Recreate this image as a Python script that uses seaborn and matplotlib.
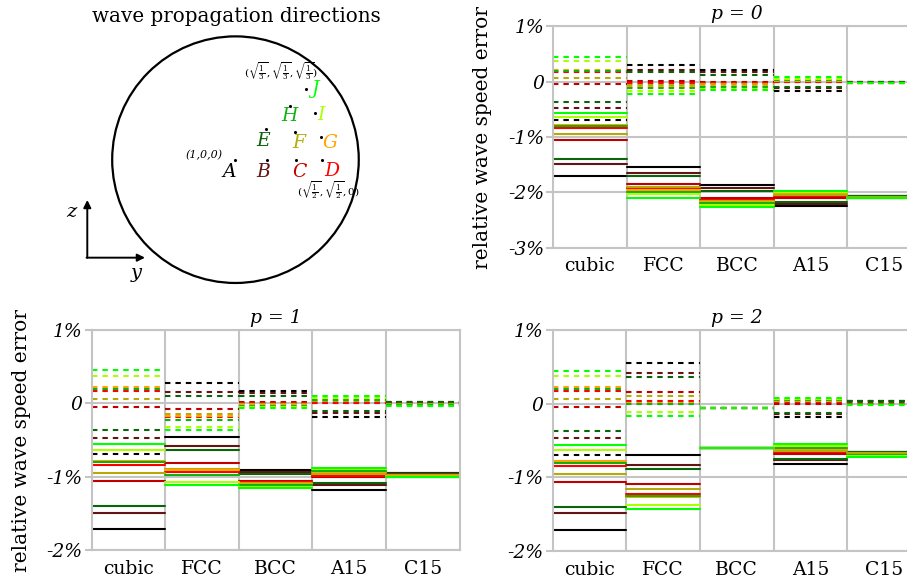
import numpy as np
import pandas as pd
import matplotlib
matplotlib.use("Agg")
import matplotlib.pyplot as plt
from matplotlib.patches import Circle
import seaborn as sns

# ---- data -------------------------------------------------------------
directions = ["A", "B", "C", "D", "E", "F", "G", "H", "I", "J"]
lattices = ["cubic", "FCC", "BCC", "A15", "C15"]
dir_colors = ["#000000", "#641414", "#c00000", "#ff0000", "#0a640a",
              "#b4aa0a", "#ffa500", "#10b010", "#aaff00", "#00ff00"]

# projected propagation directions (y, z components of unit vectors)
dir_y = [0.0, 0.253, 0.49, 0.70, 0.245, 0.48, 0.69, 0.442, 0.647, 0.572]
dir_z = [0.0, 0.0, 0.0, 0.0, 0.249, 0.222, 0.187, 0.436, 0.376, 0.573]

# relative wave speed error (%) per direction A..J; solid / dashed modes
cubic_solid = [-1.71, -1.49, -1.06, -0.84, -1.40, -0.95, -0.78, -0.80, -0.63, -0.56]
cubic_dashed = [-0.69, -0.47, -0.05, 0.17, -0.37, 0.06, 0.22, 0.20, 0.37, 0.45]

p0_fcc_solid = [-1.55, -1.65, -1.85, -1.93, -1.70, -1.90, -1.96, -1.99, -2.03, -2.10]
p0_fcc_dashed = [0.31, 0.21, 0.01, -0.02, 0.17, -0.06, -0.09, -0.12, -0.17, -0.22]
p0_bcc_solid = [-1.87, -1.93, -2.11, -2.13, -1.97, -2.16, -2.18, -2.20, -2.23, -2.26]
p0_bcc_dashed = [0.21, 0.17, 0.00, -0.02, 0.12, -0.05, -0.07, -0.09, -0.13, -0.15]
p0_a15_solid = [-2.25, -2.21, -2.10, -2.07, -2.18, -2.04, -2.02, -2.00, -1.99, -1.98]
p0_a15_dashed = [-0.17, -0.12, -0.01, 0.00, -0.09, 0.01, 0.02, 0.04, 0.05, 0.08]
p0_c15_solid = [-2.06, -2.07, -2.09, -2.10, -2.07, -2.09, -2.10, -2.10, -2.11, -2.11]
p0_c15_dashed = [-0.01, -0.01, -0.02, -0.02, -0.01, -0.02, -0.02, -0.02, -0.03, -0.03]

p1_fcc_solid = [-0.46, -0.58, -0.82, -0.94, -0.64, -0.89, -0.91, -0.98, -1.07, -1.11]
p1_fcc_dashed = [0.28, 0.16, -0.08, -0.19, 0.10, -0.14, -0.17, -0.23, -0.32, -0.37]
p1_bcc_solid = [-0.91, -0.93, -1.06, -1.07, -0.97, -1.09, -1.10, -1.12, -1.14, -1.16]
p1_bcc_dashed = [0.17, 0.14, 0.02, 0.01, 0.10, -0.01, -0.02, -0.04, -0.05, -0.07]
p1_a15_solid = [-1.18, -1.11, -1.01, -0.99, -1.09, -0.97, -0.94, -0.92, -0.90, -0.88]
p1_a15_dashed = [-0.18, -0.13, 0.00, 0.01, -0.10, 0.03, 0.04, 0.05, 0.07, 0.10]
p1_c15_solid = [-0.95, -0.95, -0.98, -0.99, -0.96, -0.98, -0.99, -1.00, -1.00, -1.01]
p1_c15_dashed = [0.02, 0.02, 0.00, -0.01, 0.02, -0.01, -0.02, -0.02, -0.03, -0.03]

p2_fcc_solid = [-0.70, -0.83, -1.09, -1.22, -0.89, -1.16, -1.27, -1.25, -1.37, -1.43]
p2_fcc_dashed = [0.55, 0.42, 0.16, 0.04, 0.36, 0.10, 0.01, -0.01, -0.11, -0.17]
p2_bcc_solid = [-0.60, -0.60, -0.60, -0.60, -0.60, -0.60, -0.60, -0.60, -0.60, -0.60]
p2_bcc_dashed = [-0.06, -0.06, -0.06, -0.06, -0.06, -0.06, -0.06, -0.06, -0.06, -0.06]
p2_a15_solid = [-0.82, -0.77, -0.68, -0.66, -0.75, -0.64, -0.62, -0.60, -0.57, -0.55]
p2_a15_dashed = [-0.18, -0.14, 0.00, 0.02, -0.12, 0.03, 0.04, 0.05, 0.07, 0.08]
p2_c15_solid = [-0.65, -0.66, -0.68, -0.69, -0.66, -0.67, -0.69, -0.70, -0.71, -0.72]
p2_c15_dashed = [0.03, 0.03, 0.01, 0.00, 0.03, 0.00, -0.01, -0.01, -0.02, -0.02]

yticks_p0 = [1, 0, -1, -2, -3]
yticks_p12 = [1, 0, -1, -2]
ytick_labels = {1: "1%", 0: "0", -1: "-1%", -2: "-2%", -3: "-3%"}

panels = {
    0: {"cubic": (cubic_solid, cubic_dashed), "FCC": (p0_fcc_solid, p0_fcc_dashed),
        "BCC": (p0_bcc_solid, p0_bcc_dashed), "A15": (p0_a15_solid, p0_a15_dashed),
        "C15": (p0_c15_solid, p0_c15_dashed)},
    1: {"cubic": (cubic_solid, cubic_dashed), "FCC": (p1_fcc_solid, p1_fcc_dashed),
        "BCC": (p1_bcc_solid, p1_bcc_dashed), "A15": (p1_a15_solid, p1_a15_dashed),
        "C15": (p1_c15_solid, p1_c15_dashed)},
    2: {"cubic": (cubic_solid, cubic_dashed), "FCC": (p2_fcc_solid, p2_fcc_dashed),
        "BCC": (p2_bcc_solid, p2_bcc_dashed), "A15": (p2_a15_solid, p2_a15_dashed),
        "C15": (p2_c15_solid, p2_c15_dashed)},
}

# ---- style ------------------------------------------------------------
sns.set_theme(style="white")
plt.rcParams["font.family"] = ["DejaVu Serif"]
plt.rcParams["mathtext.fontset"] = "dejavuserif"
plt.rcParams["text.color"] = "black"
plt.rcParams["axes.labelcolor"] = "black"
plt.rcParams["axes.titlecolor"] = "black"
plt.rcParams["xtick.labelcolor"] = "black"
plt.rcParams["ytick.labelcolor"] = "black"
GRID = "#c4c4c4"
palette = dict(zip(directions, dir_colors))

fig = plt.figure(figsize=(9.07, 5.84), dpi=100)


def segments(p):
    rows = []
    for li, lat in enumerate(lattices):
        solid, dashed = panels[p][lat]
        for mode, vals in (("solid", solid), ("dashed", dashed)):
            for d, v in zip(directions, vals):
                for edge in (-0.5, 0.5):
                    rows.append({"x": li + edge, "err": v, "direction": d,
                                 "mode": mode, "seg": f"{lat}-{mode}-{d}"})
    return pd.DataFrame(rows)


def error_panel(rect, p, ylim, yticks, ylabel):
    ax = fig.add_axes(rect)
    sns.lineplot(data=segments(p), x="x", y="err", hue="direction", style="mode",
                 units="seg", estimator=None, sort=False, palette=palette,
                 hue_order=directions, style_order=["solid", "dashed"],
                 dashes={"solid": "", "dashed": (2.6, 2.4)}, linewidth=1.5,
                 legend=False, ax=ax)
    ax.set_xlim(-0.5, 4.5)
    ax.set_ylim(*ylim)
    ax.set_xticks(range(len(lattices)))
    ax.set_xticklabels(lattices, fontsize=13.5, color="black")
    ax.set_xticks([0.5, 1.5, 2.5, 3.5], minor=True)
    ax.set_yticks(yticks)
    ax.set_yticklabels([ytick_labels[t] for t in yticks], fontsize=13.5,
                       fontstyle="italic", color="black")
    ax.tick_params(axis="x", which="both", length=0, pad=7)
    ax.tick_params(axis="y", length=5, width=1.5, color=GRID, pad=1.5, left=True,
                   labelcolor="black")
    ax.grid(True, axis="y", which="major", color=GRID, lw=1.5, zorder=0)
    ax.grid(True, axis="x", which="minor", color=GRID, lw=1.5, zorder=0)
    ax.grid(False, axis="x", which="major")
    ax.set_axisbelow(True)
    for s in ax.spines.values():
        s.set_color(GRID)
        s.set_linewidth(1.5)
    ax.set_xlabel("")
    ax.set_title(f"p = {p}", fontsize=13.5, fontstyle="italic", pad=5, color="black")
    if ylabel:
        ax.set_ylabel("relative wave speed error", fontsize=14.5, color="black")
        ax.yaxis.set_label_coords(-0.166, 0.5)
    else:
        ax.set_ylabel("")
    return ax


error_panel([0.6097, 0.5759, 0.4057, 0.3789], 0, (-3, 1), yticks_p0, True)
error_panel([0.1011, 0.0582, 0.4057, 0.3767], 1, (-2, 1), yticks_p12, True)
error_panel([0.6094, 0.0565, 0.4057, 0.3784], 2, (-2, 1), yticks_p12, False)

# ---- propagation direction sketch --------------------------------------
axd = fig.add_axes([0, (584 - 290) / 584, 440 / 907, 290 / 584])
axd.set_xlim(-1.91, 1.659)
axd.set_ylim(-1.057, 1.295)
axd.axis("off")
axd.add_patch(Circle((0, 0), 1.0, fill=False, ec="black", lw=1.6))
sns.scatterplot(x=dir_y, y=dir_z, color="black", s=5, linewidth=0, ax=axd, zorder=3)

label_offsets = [(-0.05, -0.10), (-0.03, -0.10), (0.03, -0.10), (0.08, -0.09),
                 (-0.02, -0.10), (0.03, -0.085), (0.08, -0.055), (0.0, -0.08),
                 (0.05, -0.015), (0.075, 0.0)]
for d, c, yy, zz, (ox, oz) in zip(directions, dir_colors, dir_y, dir_z, label_offsets):
    axd.text(yy + ox, zz + oz, d, color=c, fontsize=13.5, fontstyle="italic",
             ha="center", va="center")

axd.text(-0.255, 0.04, "(1,0,0)", fontsize=8, fontstyle="italic",
         ha="center", va="center")
axd.text(0.75, -0.245, r"$(\sqrt{\frac{1}{2}},\sqrt{\frac{1}{2}},0)$", fontsize=7.5,
         ha="center", va="center")
axd.text(0.37, 0.72, r"$(\sqrt{\frac{1}{3}},\sqrt{\frac{1}{3}},\sqrt{\frac{1}{3}})$",
         fontsize=7.5, ha="center", va="center")

# coordinate axes arrows
ox0, oy0 = (87.3 - 235.5) / 123.3, (159.7 - 257.7) / 123.3
axd.annotate("", xy=(ox0, (159.7 - 200) / 123.3), xytext=(ox0, oy0),
             arrowprops=dict(arrowstyle="-|>", color="black", lw=1.4,
                             mutation_scale=11, shrinkA=0, shrinkB=0))
axd.annotate("", xy=((145 - 235.5) / 123.3, oy0), xytext=(ox0 - 0.006, oy0),
             arrowprops=dict(arrowstyle="-|>", color="black", lw=1.4,
                             mutation_scale=11, shrinkA=0, shrinkB=0))
axd.text((71.7 - 235.5) / 123.3, (159.7 - 211.7) / 123.3, "z", fontsize=14,
         fontstyle="italic", ha="center", va="center")
axd.text((136.7 - 235.5) / 123.3, (159.7 - 273) / 123.3, "y", fontsize=14,
         fontstyle="italic", ha="center", va="center")

fig.text(236 / 907, 1 - 17 / 584, "wave propagation directions", fontsize=14.3,
         ha="center", va="center", color="black")

fig.savefig("out.png", dpi=100)
